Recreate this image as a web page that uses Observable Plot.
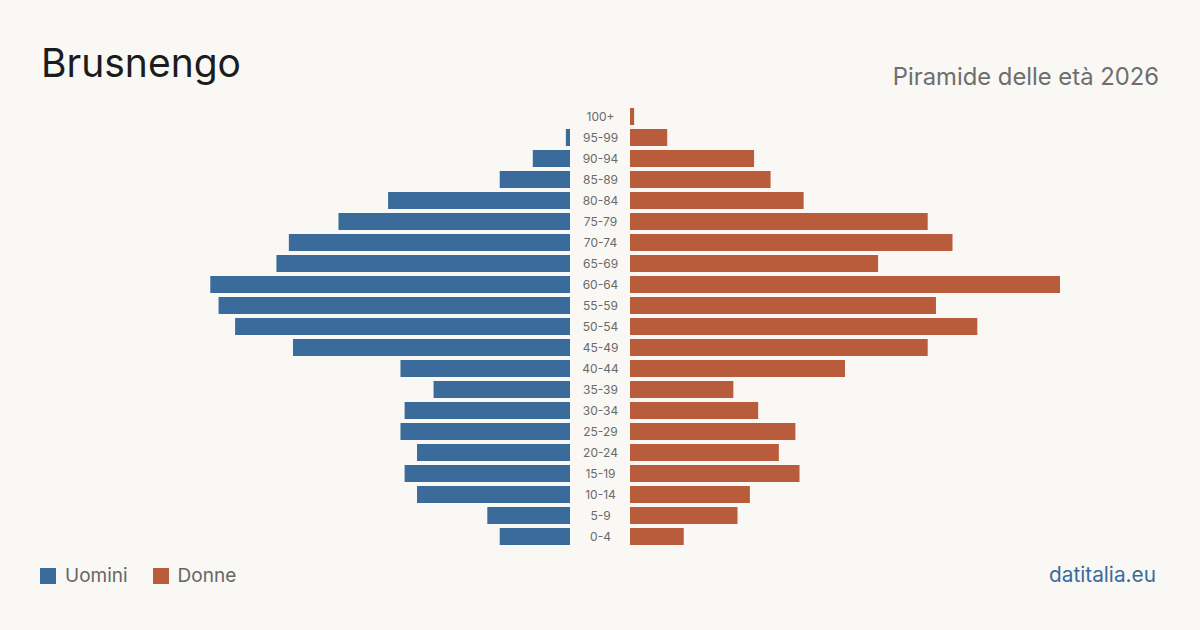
<!DOCTYPE html>
<html><head><meta charset="utf-8">
<script src="https://cdn.jsdelivr.net/npm/d3@7"></script>
<script src="https://cdn.jsdelivr.net/npm/@observablehq/plot@0.6"></script>
<style>
html,body{margin:0;padding:0;background:#f9f8f4;}
#wrap{position:relative;width:1200px;height:630px;background:#f9f8f4;font-family:Inter,"Noto Sans",sans-serif;overflow:hidden;}
#title{position:absolute;left:41px;top:43px;font-size:39px;color:#1c1c1c;line-height:1;}
#sub{position:absolute;right:41px;top:65px;font-size:23.8px;color:#6e6e6e;line-height:1;}
#legend{position:absolute;left:40px;top:566px;font-size:19px;color:#666;display:flex;align-items:center;line-height:1;}
.sw{display:inline-block;width:16px;height:16px;margin-right:9px;}
.it{display:flex;align-items:center;margin-right:25px;}
#src{position:absolute;right:44px;top:565px;font-size:20.8px;color:#3a6a9c;line-height:1;}
.p{position:absolute;top:0;}
</style></head>
<body><div id="wrap">
<div id="title">Brusnengo</div>
<div id="sub">Piramide delle età 2026</div>
<div id="legend"></div>
<div id="src">datitalia.eu</div>
</div>
<script>
const ages = ["100+","95-99","90-94","85-89","80-84","75-79","70-74","65-69","60-64","55-59","50-54","45-49","40-44","35-39","30-34","25-29","20-24","15-19","10-14","5-9","0-4"];
const uomini = [0,1,9,17,44,56,68,71,87,85,81,67,41,33,40,41,37,40,37,20,17];
const donne  = [1,9,30,34,42,72,78,60,104,74,84,72,52,25,31,40,36,41,29,26,13];
const seriesNames = ["Uomini","Donne"];
const colors = ["#3b6b9b","#b95c3c"];

const maxV = 104;
const yOpt = {domain: ages, paddingInner: 0.19, paddingOuter: 0.095, axis: null};
const common = {height: 630, marginTop: 106, marginBottom: 83, style: {background: "transparent"}};

const dataM = ages.map((a,i)=>({age:a, v:uomini[i]}));
const dataF = ages.map((a,i)=>({age:a, v:donne[i]}));

const left = Plot.plot({
  ...common, width: 570, marginLeft: 0, marginRight: 0,
  x: {domain: [0, maxV], range: [570, 140], axis: null},
  y: yOpt,
  marks: [Plot.barX(dataM, {x: "v", y: "age", fill: colors[0]})]
});
const mid = Plot.plot({
  ...common, width: 60, marginLeft: 0, marginRight: 0,
  x: {domain: [0, 1], axis: null},
  y: yOpt,
  marks: [Plot.text(ages, {x: () => 0.5, y: d => d, text: d => d, fill: "#6a6a6a", fontSize: 12, fontFamily: "Inter, sans-serif"})]
});
const right = Plot.plot({
  ...common, width: 570, marginLeft: 0, marginRight: 0,
  x: {domain: [0, maxV], range: [0, 430], axis: null},
  y: yOpt,
  marks: [Plot.barX(dataF, {x: "v", y: "age", fill: colors[1]})]
});
const wrap = document.getElementById("wrap");
[[left,0],[mid,570],[right,630]].forEach(([el,x])=>{el.classList.add("p");el.style.left=x+"px";wrap.appendChild(el);});

const lg = document.getElementById("legend");
seriesNames.forEach((n,i)=>{
  const it=document.createElement("span");it.className="it";
  it.innerHTML=`<span class="sw" style="background:${colors[i]}"></span>${n}`;
  lg.appendChild(it);
});
</script>
</body></html>
